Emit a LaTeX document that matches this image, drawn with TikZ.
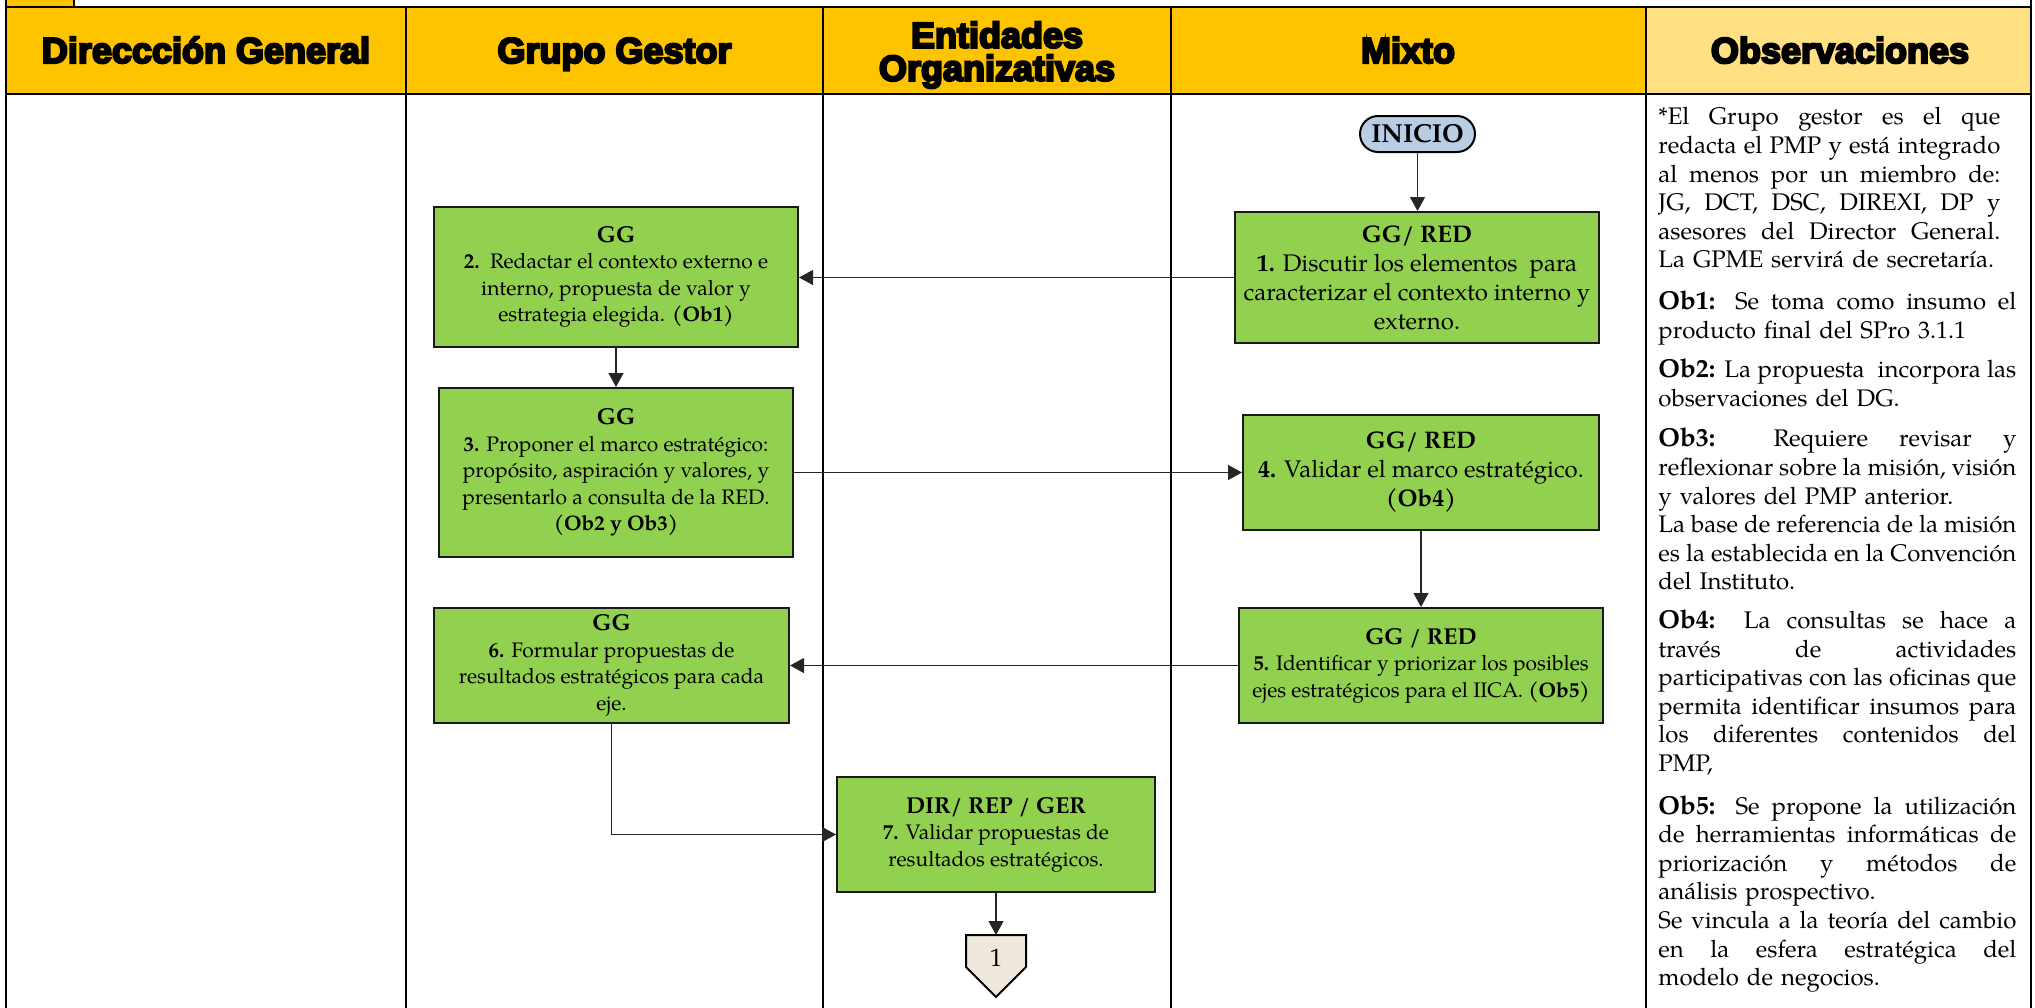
\documentclass[tikz,border=0pt]{standalone}
\usepackage{fontspec}
\setmainfont{TeX Gyre Pagella}
\newfontfamily\hfont{Liberation Sans Bold}[FakeBold=6]
\usetikzlibrary{arrows.meta}
\definecolor{hdr}{HTML}{FFC400}
\definecolor{hdrl}{HTML}{FFE083}
\definecolor{boxg}{HTML}{92D050}
\definecolor{inic}{HTML}{B9CDE5}
\definecolor{offp}{HTML}{EEE8DD}
\newlength\obsw \setlength\obsw{179pt}
\newlength\obswa \setlength\obswa{171pt}
\newcommand\JL[2][\obsw]{\makebox[#1][s]{\spaceskip=0pt\xspaceskip=0pt\relax #2}}
\newcommand\obl[1]{{\fontsize{13}{14.3}\selectfont\bfseries #1}}
\newcommand\sttl[1]{{\fontsize{11.5}{13.25}\selectfont\bfseries #1}}
\begin{document}
\begin{tikzpicture}[x=0.5pt,y=-0.5pt,
  tbl/.style={line width=1.25pt, black},
  hd/.style={inner sep=0pt, font=\hfont\fontsize{18}{16.5}\selectfont},
  box/.style={draw=black!90, line width=1pt, fill=boxg, inner sep=0pt, align=center},
  smallbox/.style={box, font=\fontsize{10.5}{13.25}\selectfont},
  bigbox/.style={box, font=\fontsize{12}{14.5}\selectfont},
  conn/.style={line width=0.65pt, black!85, -{Triangle[length=7pt,width=7.5pt]}},
  obs/.style={align=left, text width=179pt, inner sep=0pt, font=\fontsize{12}{14.3}\selectfont}]
\useasboundingbox (0,0) rectangle (2035,1007);
\clip (0,0) rectangle (2035,1007);
% header fills
\fill[hdr] (6,7) rectangle (1646,94);
\fill[hdrl] (1646,7) rectangle (2031,94);
\fill[hdr] (6,-5) rectangle (74,7);
% table lines
\draw[tbl] (6,-5) -- (6,1012);
\draw[tbl] (74,-5) -- (74,7);
\draw[tbl] (406,7) -- (406,1012);
\draw[tbl] (823,7) -- (823,1012);
\draw[tbl] (1171,7) -- (1171,1012);
\draw[tbl] (1646,7) -- (1646,1012);
\draw[tbl] (2031,-5) -- (2031,1012);
\draw[tbl] (6,7) -- (2031,7);
\draw[tbl] (6,94) -- (2031,94);
% header texts
\node[hd, anchor=base] (h1) at (206,63) {Direccción General};
\node[hd, anchor=base] (h2) at (614.5,63) {Grupo Gestor};
\node[hd, align=center] (h3) at (997,55) {Entidades\\Organizativas};
\node[hd, anchor=base] (h4) at (1408,63) {Mixto};
\node[hd, anchor=base] (h5) at (1840,63) {Observaciones};
% start
\node[draw=black, line width=1pt, fill=inic, rounded corners=9pt, minimum width=57.5pt, minimum height=18pt, inner sep=0pt, font=\fontsize{13}{14}\selectfont\bfseries] (inicio) at (1417.5,134) {INICIO};
% boxes
\node[bigbox, minimum width=182pt, minimum height=65.5pt] (b1) at (1417,277.5)
  {{\bfseries GG/ RED}\\{\bfseries 1.} Discutir los elementos\ \ para\\caracterizar el contexto interno y\\externo.};
\node[smallbox, minimum width=182pt, minimum height=70pt] (b2) at (616,277)
  {\sttl{GG}\\{\bfseries 2.}\ \ Redactar el contexto externo e\\interno, propuesta de valor y\\estrategia elegida. {\bfseries (Ob1)}};
\node[smallbox, minimum width=177pt, minimum height=84.5pt] (b3) at (616,472.5)
  {\sttl{GG}\\{\bfseries 3.} Proponer el marco estratégico:\\propósito, aspiración y valores, y\\presentarlo a consulta de la RED.\\{\bfseries (Ob2 y Ob3)}};
\node[bigbox, minimum width=178pt, minimum height=57.5pt] (b4) at (1421,472.5)
  {{\bfseries GG/ RED}\\{\bfseries 4.} Validar el marco estratégico.\\{\bfseries (Ob4)}};
\node[smallbox, minimum width=182pt, minimum height=57.5pt] (b5) at (1421,665.5)
  {\sttl{GG / RED}\\{\bfseries 5.} Identificar y priorizar los posibles\\ejes estratégicos para el IICA. {\bfseries (Ob5)}};
\node[smallbox, minimum width=177.5pt, minimum height=57.5pt] (b6) at (611.5,665.5)
  {\sttl{GG}\\{\bfseries 6.} Formular propuestas de\\resultados estratégicos para cada\\eje.};
\node[smallbox, minimum width=159pt, minimum height=57.5pt] (b7) at (996,834.5)
  {\sttl{DIR/ REP / GER}\\{\bfseries 7.} Validar propuestas de\\resultados estratégicos.};
% off-page connector
\draw[line width=1pt, fill=offp] (966,935) -- (1026,935) -- (1026,967) -- (996,997) -- (966,967) -- cycle;
\node[inner sep=0pt, font=\fontsize{12.5}{14}\selectfont] (c1) at (996,958) {1};
\coordinate (c1in) at (996,935);
% connectors
\draw[conn] (inicio.south) -- (inicio.south |- b1.north);
\draw[conn] (b1.west) -- (b1.west -| b2.east);
\draw[conn] (b2.south) -- (b3.north);
\draw[conn] (b3.east) -- (b3.east -| b4.west);
\draw[conn] (b4.south) -- (b5.north);
\draw[conn] (b5.west) -- (b6.east);
\draw[conn] (b6.south) |- (b7.west);
\draw[conn] (b7.south) -- (c1in);
% observations
\node[obs, anchor=north west] (obs) at (1658,107) {%
\JL[\obswa]{*El Grupo gestor es el que}\\
\JL[\obswa]{redacta el PMP y está integrado}\\
\JL[\obswa]{al menos por un miembro de:}\\
\JL[\obswa]{JG, DCT, DSC, DIREXI, DP y}\\
\JL[\obswa]{asesores del Director General.}\\
La GPME servirá de secretaría.\\[6.5pt]
\JL{\obl{Ob1:} Se toma como insumo el}\\
producto final del SPro 3.1.1\\[5.5pt]
\JL{\obl{Ob2:} La propuesta\ \ incorpora las}\\
observaciones del DG.\\[6pt]
\JL{\obl{Ob3:} Requiere revisar y}\\
\JL{reflexionar sobre la misión, visión}\\
y valores del PMP anterior.\\
\JL{La base de referencia de la misión}\\
\JL{es la establecida en la Convención}\\
del Instituto.\\[5pt]
\JL{\obl{Ob4:} La consultas se hace a}\\
\JL{través de actividades}\\
\JL{participativas con las oficinas que}\\
\JL{permita identificar insumos para}\\
\JL{los diferentes contenidos del}\\
PMP,\\[7pt]
\JL{\obl{Ob5:} Se propone la utilización}\\
\JL{de herramientas informáticas de}\\
\JL{priorización y métodos de}\\
análisis prospectivo.\\
\JL{Se vincula a la teoría del cambio}\\
\JL{en la esfera estratégica del}\\
modelo de negocios.};
\end{tikzpicture}
\end{document}
